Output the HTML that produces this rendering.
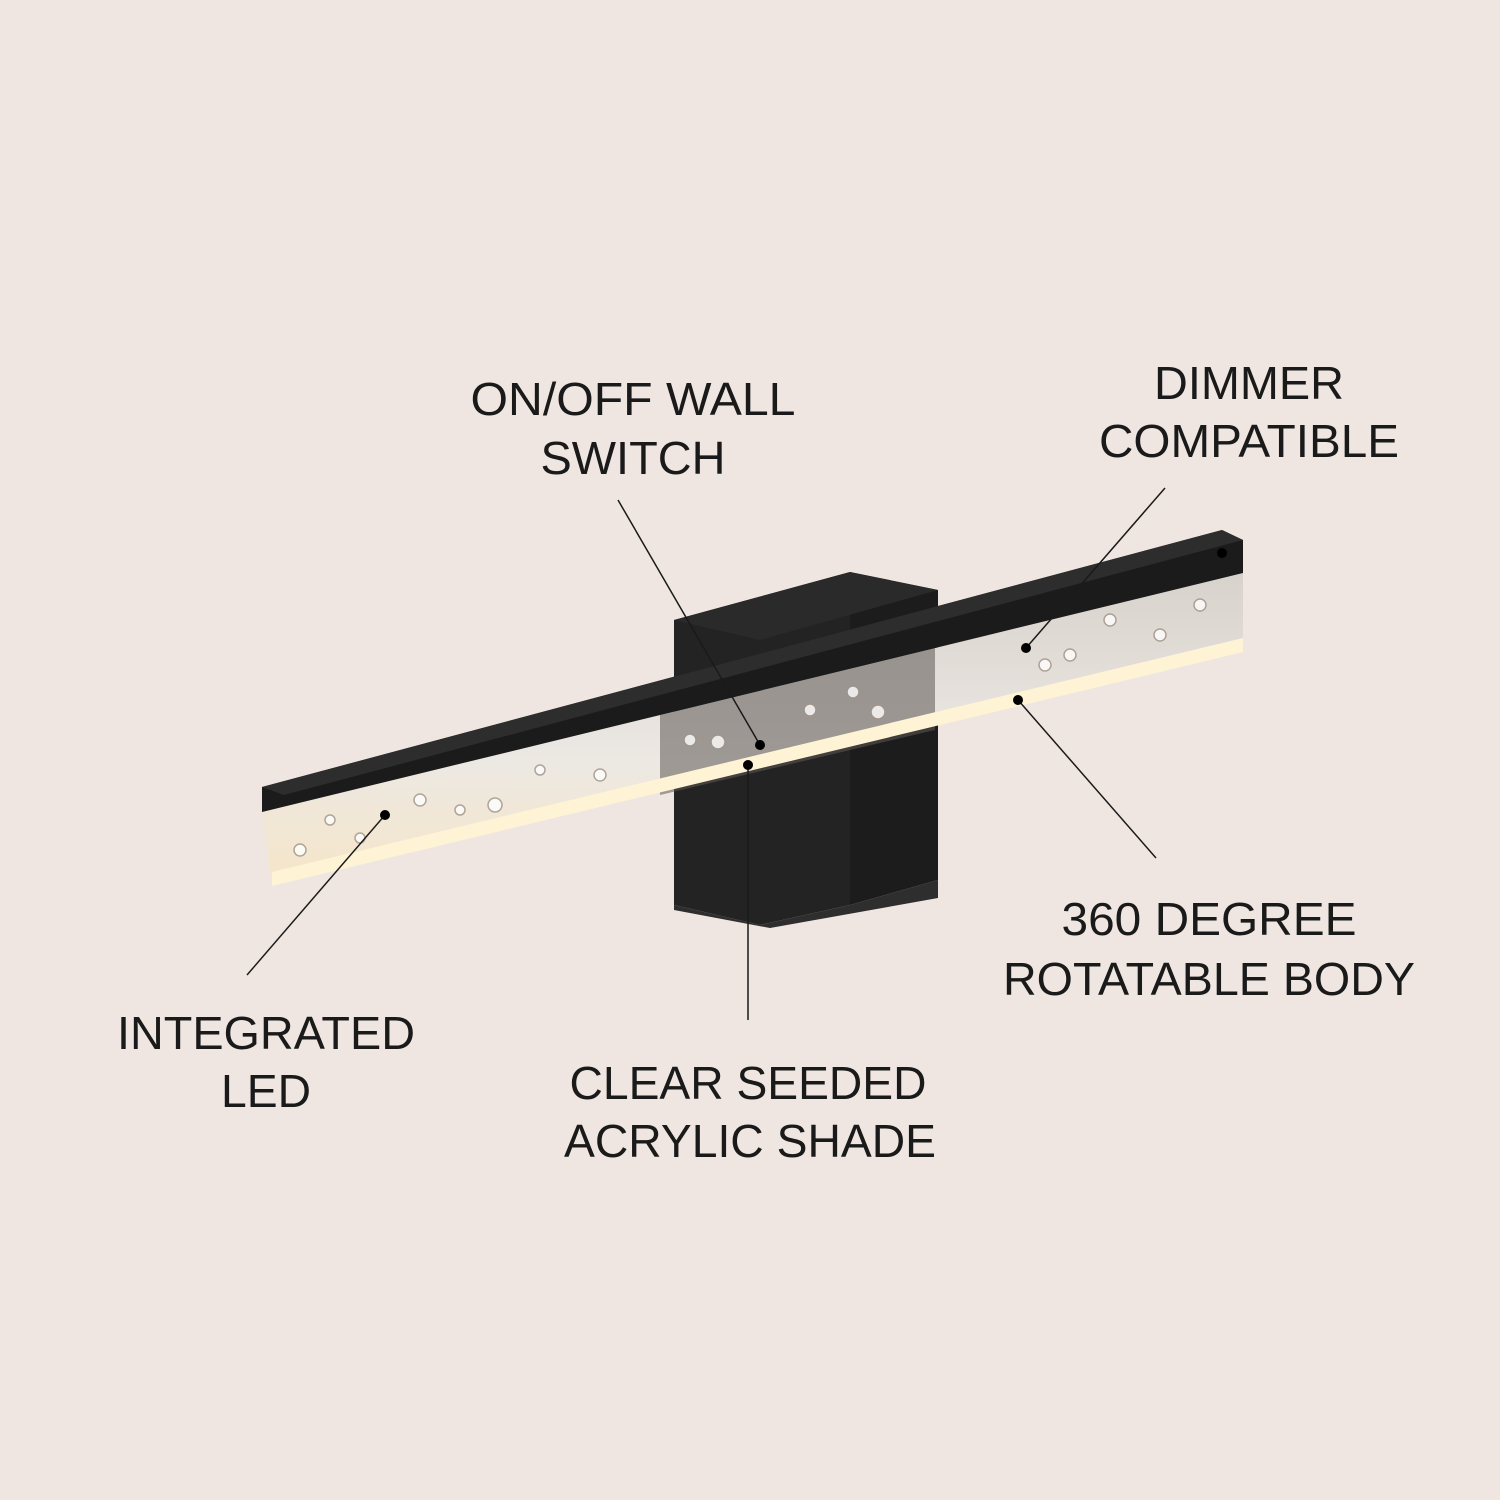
<!DOCTYPE html>
<html><head><meta charset="utf-8"><style>
html,body{margin:0;padding:0;background:#efe6e2;}
svg{display:block}
text{font-family:"Liberation Sans",sans-serif;font-size:46px;fill:#1a1a1a;text-anchor:middle}
</style></head><body>
<svg width="1500" height="1500" viewBox="0 0 1500 1500">
<defs>
<linearGradient id="acr" x1="0" y1="0" x2="0" y2="1">
<stop offset="0" stop-color="#d8d2cc"/><stop offset="0.6" stop-color="#ece8e3"/><stop offset="1" stop-color="#f6e6c8"/>
</linearGradient>
</defs>
<rect width="1500" height="1500" fill="#efe6e2"/>
<!-- backplate -->
<polygon points="850,572 938,590 938,880 850,905" fill="#1c1c1c"/>
<polygon points="674,620 850,572 850,905 760,925 674,905" fill="#232323"/>
<polygon points="674,905 760,925 850,905 938,880 938,898 770,928 674,910" fill="#2e2e2e"/>
<polygon points="674,620 850,572 938,590 760,640" fill="#2a2a2a"/>
<!-- acrylic -->
<polygon points="262,812 1243,573 1243,650 272,885" fill="url(#acr)"/>
<polygon points="660,715 935,648 935,730 660,795" fill="#5c5854" opacity="0.55"/>
<polygon points="272,872 1243,638 1243,652 272,886" fill="#fff3d6"/>
<g fill="#fff" stroke="#a09488" stroke-width="1.5" opacity="0.8">
<circle cx="300" cy="850" r="6"/><circle cx="330" cy="820" r="5"/><circle cx="420" cy="800" r="6"/><circle cx="495" cy="805" r="7"/><circle cx="540" cy="770" r="5"/><circle cx="600" cy="775" r="6"/><circle cx="690" cy="740" r="6"/><circle cx="718" cy="742" r="7"/><circle cx="810" cy="710" r="6"/><circle cx="853" cy="692" r="6"/><circle cx="878" cy="712" r="7"/><circle cx="1045" cy="665" r="6"/><circle cx="1070" cy="655" r="6"/><circle cx="1110" cy="620" r="6"/><circle cx="1160" cy="635" r="6"/><circle cx="1200" cy="605" r="6"/><circle cx="1020" cy="620" r="5"/><circle cx="360" cy="838" r="5"/><circle cx="460" cy="810" r="5"/>
</g>
<!-- black bar -->
<polygon points="262,787 1222,530 1243,540 1243,573 262,812" fill="#1b1b1b"/>
<polygon points="262,787 1222,530 1243,540 284,795" fill="#2d2d2d"/>
<circle cx="1222" cy="553" r="5" fill="#000"/>
<!-- leader lines -->
<g stroke="#1a1a1a" stroke-width="1.5" fill="none">
<line x1="618" y1="500" x2="760" y2="745"/>
<line x1="1165" y1="488" x2="1026" y2="648"/>
<line x1="1018" y1="700" x2="1156" y2="858"/>
<line x1="385" y1="815" x2="247" y2="975"/>
<line x1="748" y1="765" x2="748" y2="1020"/>
</g>
<g fill="#000">
<circle cx="760" cy="745" r="5"/><circle cx="1026" cy="648" r="5"/><circle cx="1018" cy="700" r="5"/><circle cx="385" cy="815" r="5"/><circle cx="748" cy="765" r="5"/>
</g>
<!-- labels -->
<text x="633" y="415" textLength="325" lengthAdjust="spacingAndGlyphs">ON/OFF WALL</text>
<text x="633" y="474" textLength="185" lengthAdjust="spacingAndGlyphs">SWITCH</text>
<text x="1249" y="399" textLength="190" lengthAdjust="spacingAndGlyphs">DIMMER</text>
<text x="1249" y="457" textLength="300" lengthAdjust="spacingAndGlyphs">COMPATIBLE</text>
<text x="1209" y="935" textLength="295" lengthAdjust="spacingAndGlyphs">360 DEGREE</text>
<text x="1209" y="995" textLength="412" lengthAdjust="spacingAndGlyphs">ROTATABLE BODY</text>
<text x="266" y="1049" textLength="298" lengthAdjust="spacingAndGlyphs">INTEGRATED</text>
<text x="266" y="1107" textLength="90" lengthAdjust="spacingAndGlyphs">LED</text>
<text x="748" y="1099" textLength="357" lengthAdjust="spacingAndGlyphs">CLEAR SEEDED</text>
<text x="750" y="1157" textLength="372" lengthAdjust="spacingAndGlyphs">ACRYLIC SHADE</text>
</svg>
</body></html>
